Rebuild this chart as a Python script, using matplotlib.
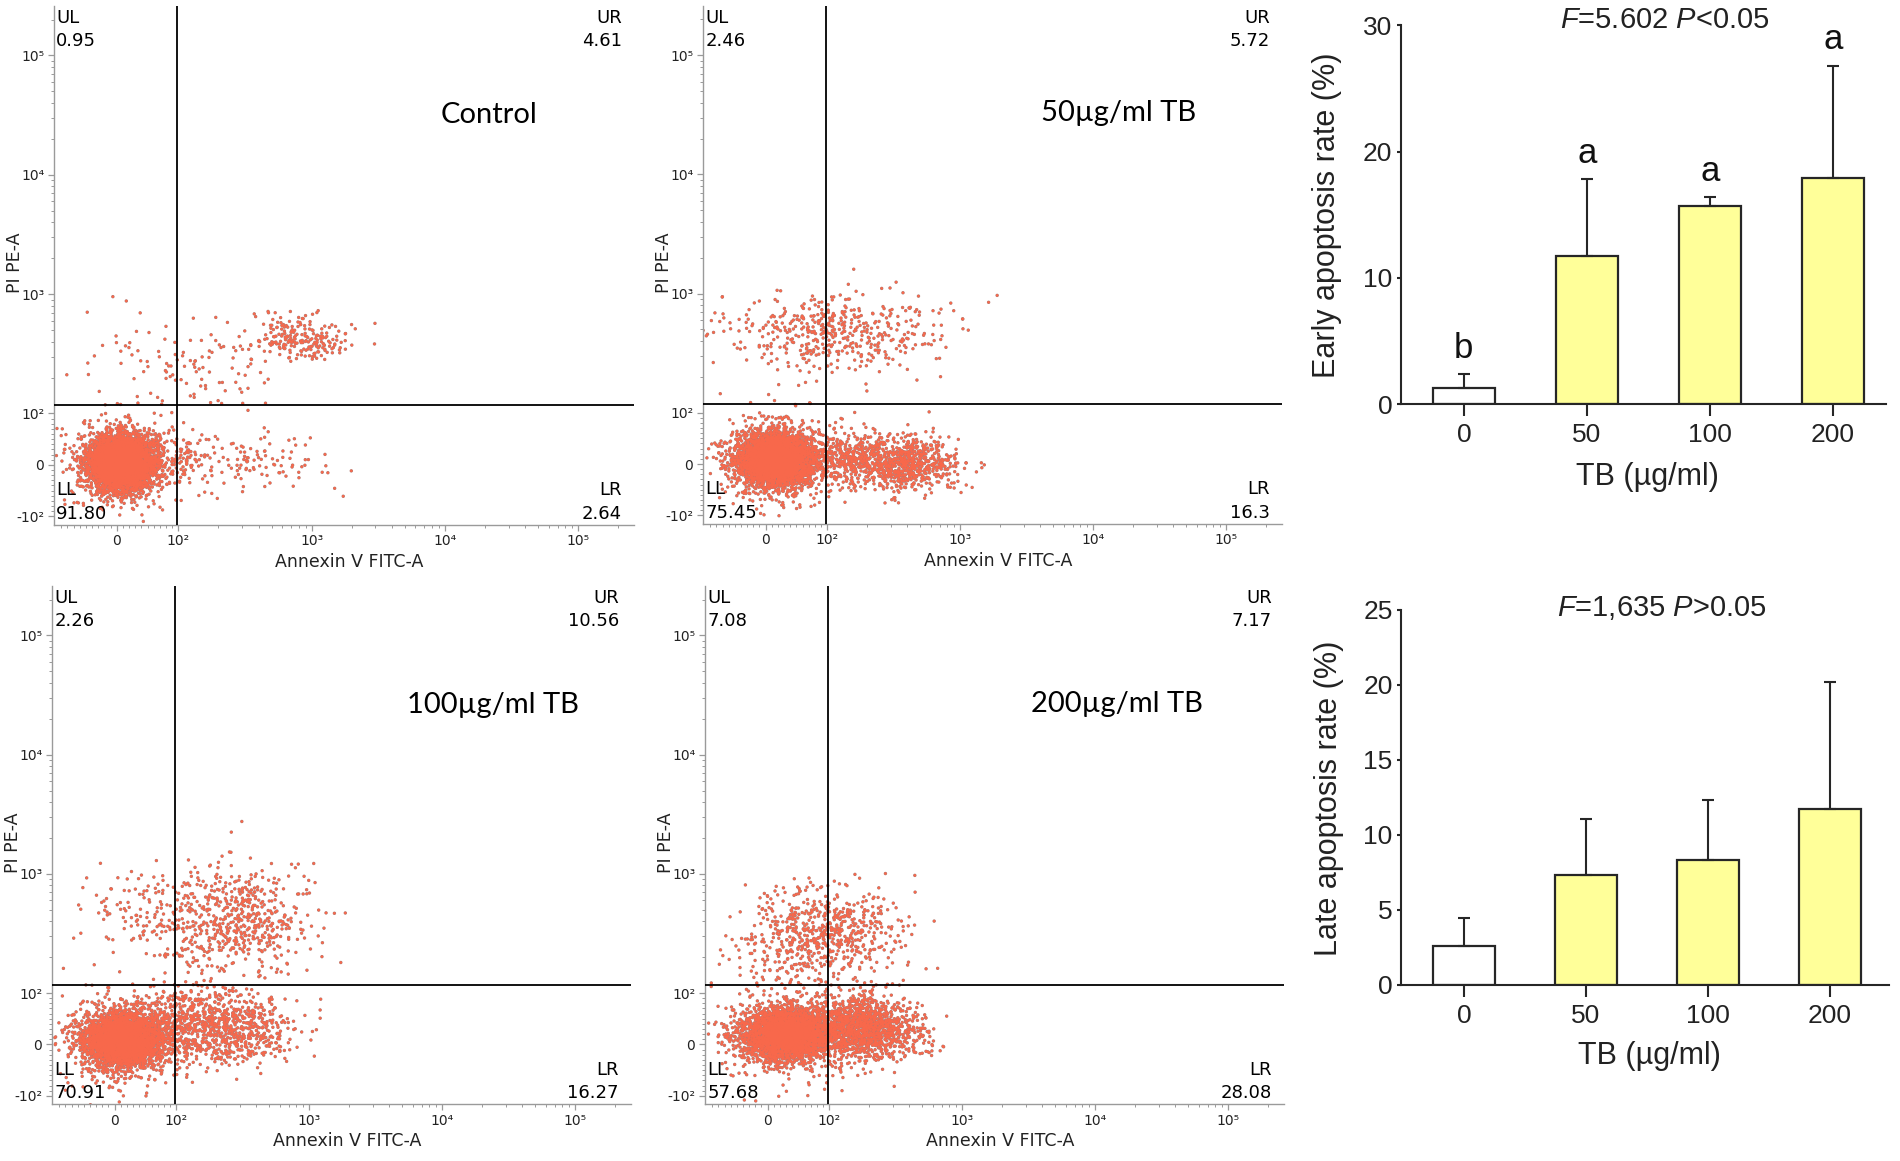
import numpy as np
import matplotlib
matplotlib.use("Agg")
import matplotlib.pyplot as plt
from matplotlib.ticker import FixedLocator, FixedFormatter, NullFormatter

plt.rcParams["font.family"] = ["DejaVu Sans"]
plt.rcParams["mathtext.fontset"] = "custom"
plt.rcParams["mathtext.rm"] = "Liberation Sans"
plt.rcParams["mathtext.it"] = "Liberation Sans:italic"

# ---------------- flow cytometry dot plots ----------------
panel_titles = ["Control", "50µg/ml TB", "100µg/ml TB", "200µg/ml TB"]
quad_ul = ["0.95", "2.46", "2.26", "7.08"]
quad_ur = ["4.61", "5.72", "10.56", "7.17"]
quad_ll = ["91.80", "75.45", "70.91", "57.68"]
quad_lr = ["2.64", "16.3", "16.27", "28.08"]

gate_annexin = 98
gate_pi = 118

# cell populations:
# (Annexin V centre, PI centre, spread Annexin, spread PI [decades], events)
pops_control = [
    (8, 4, 0.12, 0.11, 5000),
    (8, 4, 0.22, 0.19, 420),
    (110, 15, 0.12, 0.10, 80),
    (850, 420, 0.19, 0.10, 220),
    (120, 280, 0.40, 0.20, 110),
    (380, 6, 0.30, 0.11, 110),
]
pops_50 = [
    (16, 9, 0.14, 0.11, 4000),
    (16, 9, 0.22, 0.20, 400),
    (380, 2, 0.20, 0.12, 750),
    (140, 12, 0.15, 0.12, 350),
    (120, 470, 0.42, 0.15, 480),
]
pops_100 = [
    (12, 10, 0.14, 0.11, 3600),
    (12, 10, 0.24, 0.20, 400),
    (120, 40, 0.18, 0.16, 500),
    (300, 30, 0.22, 0.15, 500),
    (280, 420, 0.30, 0.22, 600),
    (40, 500, 0.25, 0.18, 100),
]
pops_200 = [
    (30, 20, 0.16, 0.11, 3100),
    (30, 20, 0.24, 0.20, 300),
    (173, 31, 0.21, 0.13, 1500),
    (85, 300, 0.30, 0.20, 700),
]
panel_pops = [pops_control, pops_50, pops_100, pops_200]

# ---------------- bar charts ----------------
doses = ["0", "50", "100", "200"]
early_mean = [1.3, 11.7, 15.7, 17.9]
early_err = [1.1, 6.1, 0.7, 8.9]
early_letters = ["b", "a", "a", "a"]
late_mean = [2.6, 7.3, 8.3, 11.7]
late_err = [1.85, 3.75, 4.0, 8.5]

fig = plt.figure(figsize=(19, 11.61), dpi=100)
W, H = 1900.0, 1161.0


def px_axes(left, top, right, bottom):
    return fig.add_axes([left / W, 1 - bottom / H, (right - left) / W, (bottom - top) / H])


flow_boxes = [(54, 5.5, 634, 524.5), (703, 5.5, 1282, 523.5),
              (52, 585.5, 631, 1104), (705, 585.5, 1284, 1104)]
title_pos = [(0.75, 0.789), (0.717, 0.793), (0.762, 0.770), (0.712, 0.771)]

x_major = [0, 100, 1000, 10000, 100000]
x_major_lab = ["0", "10²", "10³", "10⁴", "10⁵"]
y_major = [-100, 0, 100, 1000, 10000, 100000]
y_major_lab = ["-10²", "0", "10²", "10³", "10⁴", "10⁵"]
minor = [s * v for v in range(10, 100, 10) for s in (-1, 1)]
minor += [m * d for d in (100, 1000, 10000) for m in range(2, 10)] + [200000]

rng = np.random.default_rng(7)
grey = "#9a9a9a"

for i, box in enumerate(flow_boxes):
    ax = px_axes(*box)
    ax.set_xscale("symlog", linthresh=100, linscale=0.416)
    ax.set_yscale("symlog", linthresh=100, linscale=0.388)
    ax.set_xlim(-102, 262144)
    ax.set_ylim(-117, 262144)
    tx = ax.xaxis.get_transform()
    ty = ax.yaxis.get_transform()

    xs, ys = [], []
    for cx, cy, sx, sy, n in panel_pops[i]:
        ux = tx.transform(np.array([float(cx)]))[0] + rng.normal(0, sx * 100, n)
        uy = ty.transform(np.array([float(cy)]))[0] + rng.normal(0, sy * 100, n)
        xs.append(tx.inverted().transform(ux))
        ys.append(ty.inverted().transform(uy))
    xs = np.concatenate(xs)
    ys = np.concatenate(ys)
    # each event: greyish rim with a bright centre, like the cytometer export
    ax.scatter(xs, ys, s=6, c="#B07A72", edgecolors="none",
               marker="o", rasterized=True, zorder=2)
    ax.scatter(xs, ys, s=3.2, c="#F8684B", edgecolors="none",
               marker="o", rasterized=True, zorder=2)

    ax.axvline(gate_annexin, color="black", lw=1.3, zorder=3)
    ax.axhline(gate_pi, color="black", lw=1.3, zorder=3)

    for s in ("top", "right"):
        ax.spines[s].set_visible(False)
    for s in ("left", "bottom"):
        ax.spines[s].set_color(grey)
        ax.spines[s].set_linewidth(1.0)

    ax.xaxis.set_major_locator(FixedLocator(x_major))
    ax.xaxis.set_major_formatter(FixedFormatter(x_major_lab))
    ax.yaxis.set_major_locator(FixedLocator(y_major))
    ax.yaxis.set_major_formatter(FixedFormatter(y_major_lab))
    ax.xaxis.set_minor_locator(FixedLocator(minor))
    ax.yaxis.set_minor_locator(FixedLocator(minor))
    ax.xaxis.set_minor_formatter(NullFormatter())
    ax.yaxis.set_minor_formatter(NullFormatter())
    ax.tick_params(which="major", length=4, width=0.9, color=grey,
                   labelsize=10, labelcolor="#222222", pad=3)
    ax.tick_params(which="minor", length=2.5, width=0.7, color=grey)

    fs = 13
    ax.text(0.004, 0.976, "UL", transform=ax.transAxes, fontsize=fs, va="center", ha="left")
    ax.text(0.004, 0.932, quad_ul[i], transform=ax.transAxes, fontsize=fs, va="center", ha="left")
    ax.text(0.979, 0.976, "UR", transform=ax.transAxes, fontsize=fs, va="center", ha="right")
    ax.text(0.979, 0.932, quad_ur[i], transform=ax.transAxes, fontsize=fs, va="center", ha="right")
    ax.text(0.004, 0.066, "LL", transform=ax.transAxes, fontsize=fs, va="center", ha="left")
    ax.text(0.004, 0.021, quad_ll[i], transform=ax.transAxes, fontsize=fs, va="center", ha="left")
    ax.text(0.979, 0.066, "LR", transform=ax.transAxes, fontsize=fs, va="center", ha="right")
    ax.text(0.979, 0.021, quad_lr[i], transform=ax.transAxes, fontsize=fs, va="center", ha="right")

    ax.text(title_pos[i][0], title_pos[i][1], panel_titles[i], transform=ax.transAxes,
            fontsize=21, family="Lato", ha="center", va="center")
    ax.text(0.509, -0.072, "Annexin V FITC-A", transform=ax.transAxes, fontsize=12.5,
            ha="center", va="center", color="#222222")
    ax.text(-0.068, 0.504, "PI PE-A", transform=ax.transAxes, fontsize=12.5, rotation=90,
            ha="center", va="center", color="#222222")


# ---------------- bar charts ----------------
def bar_panel(box, means, errs, ylim, yticks, ylabel, stat, stat_xy, ylab_xy, xlab_y, xlim, letters=None):
    ax = px_axes(*box)
    x = np.arange(len(doses))
    colors = ["white"] + ["#FFFF99"] * (len(doses) - 1)
    ink = "#262626"
    ax.bar(x, means, width=0.504, color=colors, edgecolor=ink, linewidth=1.6, zorder=2)
    ax.errorbar(x, means, yerr=[np.zeros(len(x)), errs], fmt="none", ecolor=ink,
                elinewidth=1.5, capsize=4, capthick=1.5, zorder=3)
    ax.set_xlim(*xlim)
    ax.set_ylim(*ylim)
    ax.set_xticks(x)
    ax.set_xticklabels(doses)
    ax.set_yticks(yticks)
    for s in ("top", "right"):
        ax.spines[s].set_visible(False)
    for s in ("left", "bottom"):
        ax.spines[s].set_color(ink)
        ax.spines[s].set_linewidth(1.5)
    ax.tick_params(axis="x", length=8.5, width=1.5, color=ink, pad=5)
    ax.tick_params(axis="y", length=3, width=1.5, color=ink, pad=3)
    for lab in ax.get_xticklabels() + ax.get_yticklabels():
        lab.set_family("Liberation Sans")
        lab.set_fontsize(19)
        lab.set_color("#222222")
    ax.text(ylab_xy[0], ylab_xy[1], ylabel, transform=ax.transAxes, rotation=90,
            fontsize=22, family="Liberation Sans", ha="center", va="center", color="#222222")
    ax.text(stat_xy[0], stat_xy[1], stat, transform=ax.transAxes, fontsize=21,
            family="Liberation Sans", ha="center", va="center", color="#222222")
    ax.text(0.51, xlab_y, "TB (µg/ml)", transform=ax.transAxes, fontsize=22,
            family="Liberation Sans", ha="center", va="center", color="#222222")
    if letters:
        for xi, m, e, l in zip(x, means, errs, letters):
            ax.text(xi, m + e + 1.3, l, fontsize=25, family="Liberation Sans",
                    ha="center", va="baseline", color="#111111")
    return ax


bar_panel((1400.6, 25.2, 1885.5, 404.3), early_mean, early_err, (0, 30), [0, 10, 20, 30],
          "Early apoptosis rate (%)", r"$\mathit{F}$=5.602 $\mathit{P}$<0.05",
          (0.546, 1.014), (-0.152, 0.5), -0.192, (-0.514, 3.427), early_letters)
bar_panel((1401, 609.6, 1889, 985), late_mean, late_err, (0, 25), [0, 5, 10, 15, 20, 25],
          "Late apoptosis rate (%)", r"$\mathit{F}$=1,635 $\mathit{P}$>0.05",
          (0.534, 1.005), (-0.148, 0.497), -0.189, (-0.515, 3.484))

fig.savefig("out.png", dpi=100)
